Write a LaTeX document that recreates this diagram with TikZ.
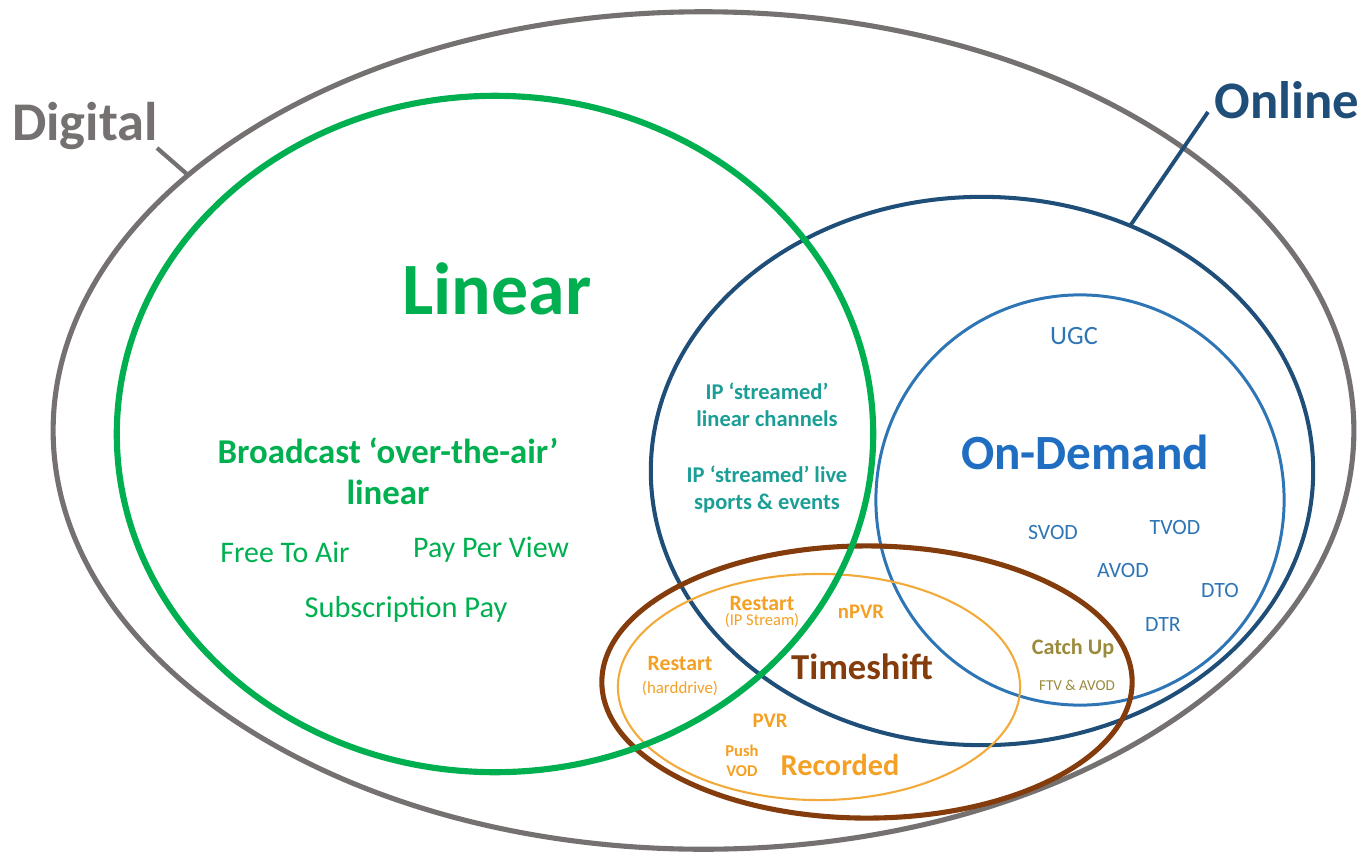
\documentclass[tikz,border=0pt]{standalone}
\usepackage{fontspec}
\setmainfont{Carlito}
\definecolor{cgray}{HTML}{767171}
\definecolor{cgreen}{HTML}{00B050}
\definecolor{cnavy}{HTML}{1F4E79}
\definecolor{cblue}{HTML}{2E75B6}
\definecolor{cblueT}{HTML}{1F6EC2}
\definecolor{cbrown}{HTML}{843C0C}
\definecolor{corange}{HTML}{F2AB3A}
\definecolor{corangeT}{HTML}{F4A024}
\definecolor{cteal}{HTML}{1A9E96}
\definecolor{colive}{HTML}{9A8A3C}
\tikzset{
  lbl/.style={inner sep=0pt, align=center},
  fs/.style 2 args={font=\fontsize{#1}{#2}\selectfont},
}
\begin{document}
\begin{tikzpicture}[x=0.01cm,y=-0.01cm]
\useasboundingbox (0,0) rectangle (1363,854);
% ellipses
\draw[cgray, line width=1.45pt] (703.5,430.5) ellipse [x radius=6.50cm, y radius=4.185cm];
\draw[cnavy, line width=1.15pt] (982,471) ellipse [x radius=3.31cm, y radius=2.74cm];
\draw[cblue, line width=0.85pt] (1080,500) ellipse [x radius=2.04cm, y radius=2.05cm];
\draw[cbrown, line width=1.45pt] (867,682) ellipse [x radius=2.65cm, y radius=1.36cm];
\draw[corange, line width=0.6pt] (819,687) ellipse [x radius=2.01cm, y radius=1.13cm];
\draw[cgreen, line width=1.75pt] (495,434) ellipse [x radius=3.78cm, y radius=3.38cm];
% label ticks
\coordinate (digA) at (157,148);
\coordinate (digB) at (188,175);
\coordinate (onA) at (1208,112);
\coordinate (onB) at (1130,226);
\draw[cgray, line width=1.2pt] (digA) -- (digB);
\draw[cnavy, line width=1.1pt] (onA) -- (onB);
% titles
\node[lbl, fs={15.5}{18}, text=cgray, font=\bfseries] (digital) at (85,126) {\fontsize{15.5}{18}\selectfont Digital};
\node[lbl, text=cnavy] (online) at (1287,100) {\fontsize{15}{18}\selectfont\bfseries Online};
\node[lbl, text=cgreen] (linear) at (497,289) {\fontsize{21}{25}\selectfont\bfseries Linear};
\node[lbl, text=cblueT] (ondemand) at (1085,452) {\fontsize{14}{17}\selectfont\bfseries On-Demand};
% linear contents
\node[lbl, text=cgreen, font=\fontsize{9.9}{11.7}\selectfont\bfseries] (broadcast) at (388,471) {Broadcast ‘over-the-air’\\linear};
\node[lbl, text=cgreen, font=\fontsize{8.5}{10}\selectfont] (fta) at (285,552) {Free To Air};
\node[lbl, text=cgreen, font=\fontsize{8.5}{10}\selectfont] (ppv) at (491,550) {Pay Per View};
\node[lbl, text=cgreen, font=\fontsize{8.65}{10}\selectfont] (subs) at (406,609) {Subscription Pay};
% overlap
\node[lbl, text=cteal, font=\fontsize{6.4}{7.7}\selectfont\bfseries] (ipch) at (767,405) {IP ‘streamed’\\linear channels};
\node[lbl, text=cteal, font=\fontsize{6.4}{7.7}\selectfont\bfseries] (iplive) at (767,489) {IP ‘streamed’ live\\sports \& events};
% on-demand contents
\node[lbl, text=cblue, font=\fontsize{7.5}{9}\selectfont] (ugc) at (1074,336) {UGC};
\node[lbl, text=cblue, font=\fontsize{6.2}{7.5}\selectfont] (svod) at (1053,532) {SVOD};
\node[lbl, text=cblue, font=\fontsize{6.2}{7.5}\selectfont] (tvod) at (1175,527) {TVOD};
\node[lbl, text=cblue, font=\fontsize{6.2}{7.5}\selectfont] (avod) at (1123,570) {AVOD};
\node[lbl, text=cblue, font=\fontsize{6.2}{7.5}\selectfont] (dto) at (1220,590) {DTO};
\node[lbl, text=cblue, font=\fontsize{6.2}{7.5}\selectfont] (dtr) at (1163,624) {DTR};
% timeshift contents
\node[lbl, text=corangeT, font=\fontsize{6.2}{7.5}\selectfont\bfseries] (restartip) at (762,604) {Restart};
\node[lbl, text=corangeT, font=\fontsize{4.7}{6}\selectfont] (ipstream) at (762,621) {(IP Stream)};
\node[lbl, text=corangeT, font=\fontsize{5.9}{7}\selectfont\bfseries] (npvr) at (861,612) {nPVR};
\node[lbl, text=corangeT, font=\fontsize{6.2}{7.5}\selectfont\bfseries] (restarthd) at (680,664) {Restart};
\node[lbl, text=corangeT, font=\fontsize{4.8}{6}\selectfont] (harddrive) at (680,688) {(harddrive)};
\node[lbl, text=cbrown, font=\fontsize{10.4}{12}\selectfont\bfseries] (timeshift) at (862,667) {Timeshift};
\node[lbl, text=corangeT, font=\fontsize{5.9}{7}\selectfont\bfseries] (pvr) at (770,721) {PVR};
\node[lbl, text=corangeT, font=\fontsize{4.7}{5.7}\selectfont\bfseries] (pushvod) at (742,761) {Push\\VOD};
\node[lbl, text=corangeT, font=\fontsize{8.6}{10}\selectfont\bfseries] (recorded) at (840,765) {Recorded};
\node[lbl, text=colive, font=\fontsize{6.3}{7.5}\selectfont\bfseries] (catchup) at (1073,648) {Catch Up};
\node[lbl, text=colive, font=\fontsize{4.3}{5.5}\selectfont] (ftv) at (1077,685) {FTV \& AVOD};
\end{tikzpicture}
\end{document}
